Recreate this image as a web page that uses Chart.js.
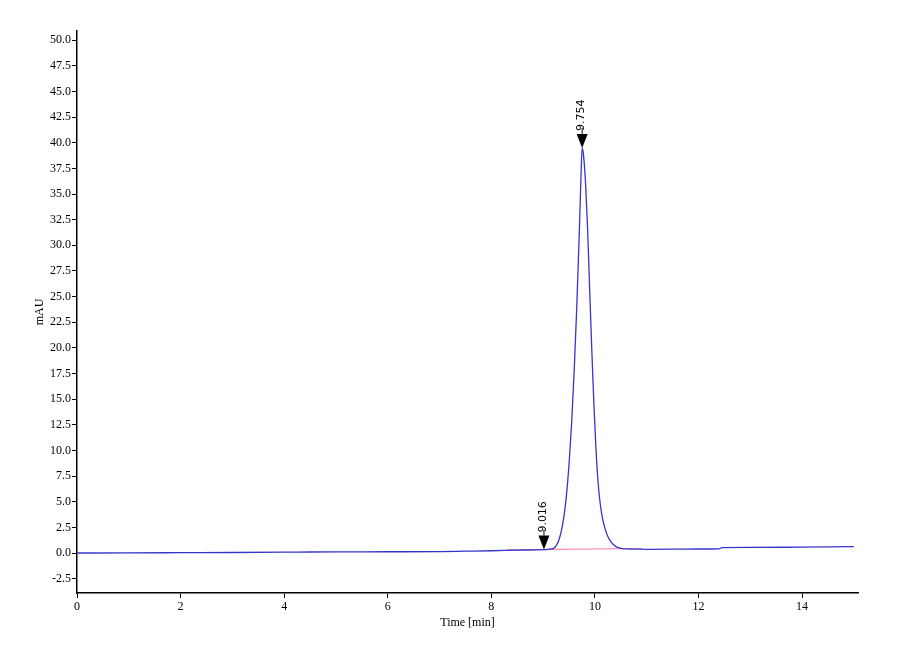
<!DOCTYPE html>
<html>
<head>
<meta charset="utf-8">
<script src="https://cdn.jsdelivr.net/npm/chart.js@4/dist/chart.umd.min.js"></script>
<style>
  html, body { margin: 0; padding: 0; background: #fff; }
  #wrap { width: 900px; height: 660px; }
</style>
</head>
<body>
<div id="wrap"><canvas id="chart"></canvas></div>
<script>
// Chromatogram signal (time in min, signal in mAU)
const times = [0, 1, 2, 3, 4, 4.5, 5, 6, 7, 7.5, 8, 8.5, 9, 9.1, 9.2,
  9.25, 9.3, 9.35, 9.4, 9.45, 9.5, 9.55, 9.6, 9.65, 9.7, 9.73, 9.754,
  9.78, 9.82, 9.86, 9.9, 9.94, 9.98, 10.02, 10.06, 10.1, 10.15, 10.2,
  10.25, 10.3, 10.35, 10.4, 10.45, 10.5, 10.6, 10.8, 11, 11.5, 12, 12.4,
  12.45, 13, 14, 15]
const signal = [0.0, 0.01, 0.03, 0.05, 0.08, 0.10, 0.11, 0.12, 0.14, 0.18, 0.22, 0.28, 0.33, 0.36, 0.45,
  0.7, 1.2, 2.1, 3.5, 5.6, 8.6, 12.6, 17.8, 24.0, 31.5, 36.5, 39.5,
  38.8, 36.0, 31.5, 25.5, 19.8, 14.6, 10.2, 7.0, 4.9, 3.3, 2.3,
  1.6, 1.15, 0.85, 0.65, 0.52, 0.46, 0.40, 0.38, 0.36, 0.37, 0.39, 0.41,
  0.52, 0.54, 0.58, 0.62]

// integration baseline under the peak
const baseTimes = [8.3, 10.9]
const baseValues = [0.30, 0.44]

// peak markers
const peakTimes = [9.016, 9.754]
const peakValues = [0.33, 39.5]
const peakLabels = ["9.016", "9.754"]

const xTicks = [0, 2, 4, 6, 8, 10, 12, 14]
const yTicks = [-2.5, 0, 2.5, 5, 7.5, 10, 12.5, 15, 17.5, 20, 22.5, 25, 27.5, 30,
  32.5, 35, 37.5, 40, 42.5, 45, 47.5, 50]

const serif = "'Liberation Serif', 'DejaVu Serif', serif"

// draws the down arrows and rotated retention-time labels
const peakMarkers = {
  id: "peakMarkers",
  afterDatasetsDraw(chart) {
    const ctx = chart.ctx
    const xs = chart.scales.x
    const ys = chart.scales.y
    peakTimes.forEach((t, i) => {
      const px = xs.getPixelForValue(t)
      const py = ys.getPixelForValue(peakValues[i])
      ctx.save()
      ctx.fillStyle = "#000"
      ctx.beginPath()
      ctx.moveTo(px, py)
      ctx.lineTo(px - 5.5, py - 14)
      ctx.lineTo(px + 5.5, py - 14)
      ctx.closePath()
      ctx.fill()
      ctx.strokeStyle = "#000"
      ctx.lineWidth = 1
      ctx.beginPath()
      ctx.moveTo(px, py - 14)
      ctx.lineTo(px, py - 20)
      ctx.stroke()
      ctx.translate(px - 1, py - 17)
      ctx.rotate(-Math.PI / 2)
      ctx.font = "11px 'DejaVu Sans', sans-serif"
      ctx.textAlign = "left"
      ctx.textBaseline = "middle"
      ctx.fillText(peakLabels[i], 0, 0)
      ctx.restore()
    })
  }
}

const ctx = document.getElementById("chart").getContext("2d")
new Chart(ctx, {
  type: "line",
  data: {
    datasets: [
      {
        label: "baseline",
        data: baseTimes.map((t, i) => ({ x: t, y: baseValues[i] })),
        borderColor: "#ff80b4",
        borderWidth: 1.2,
        pointRadius: 0,
        order: 2
      },
      {
        label: "signal",
        data: times.map((t, i) => ({ x: t, y: signal[i] })),
        borderColor: "#3636c8",
        borderWidth: 1.3,
        pointRadius: 0,
        cubicInterpolationMode: "monotone",
        order: 1
      }
    ]
  },
  options: {
    responsive: true,
    maintainAspectRatio: false,
    animation: false,
    layout: { padding: { left: 0, top: 31, right: 42, bottom: 0 } },
    plugins: {
      legend: { display: false },
      tooltip: { enabled: false }
    },
    scales: {
      x: {
        type: "linear",
        min: 0,
        max: 15.08,
        afterBuildTicks: (scale) => { scale.ticks = xTicks.map(v => ({ value: v })) },
        afterFit: (scale) => { scale.height = 67 },
        grid: { drawOnChartArea: false, drawTicks: true, tickLength: 5, color: "#000" },
        border: { display: true, color: "#000", width: 1.5 },
        ticks: {
          color: "#000",
          padding: 2,
          maxRotation: 0,
          font: { family: serif, size: 12 },
          callback: (v) => String(v)
        },
        title: {
          display: true,
          text: "Time [min]",
          color: "#000",
          font: { family: serif, size: 12 },
          padding: { top: 0, bottom: 30 }
        }
      },
      y: {
        type: "linear",
        min: -3.9,
        max: 50.9,
        afterBuildTicks: (scale) => { scale.ticks = yTicks.map(v => ({ value: v })) },
        afterFit: (scale) => { scale.width = 77 },
        grid: { drawOnChartArea: false, drawTicks: true, tickLength: 5, color: "#000" },
        border: { display: true, color: "#000", width: 1.5 },
        ticks: {
          color: "#000",
          padding: 1,
          font: { family: serif, size: 12 },
          callback: (v) => Number(v).toFixed(1)
        },
        title: {
          display: true,
          text: "mAU",
          color: "#000",
          font: { family: serif, size: 12 },
          padding: { top: 33, bottom: 0 }
        }
      }
    }
  },
  plugins: [peakMarkers]
})
</script>
</body>
</html>
